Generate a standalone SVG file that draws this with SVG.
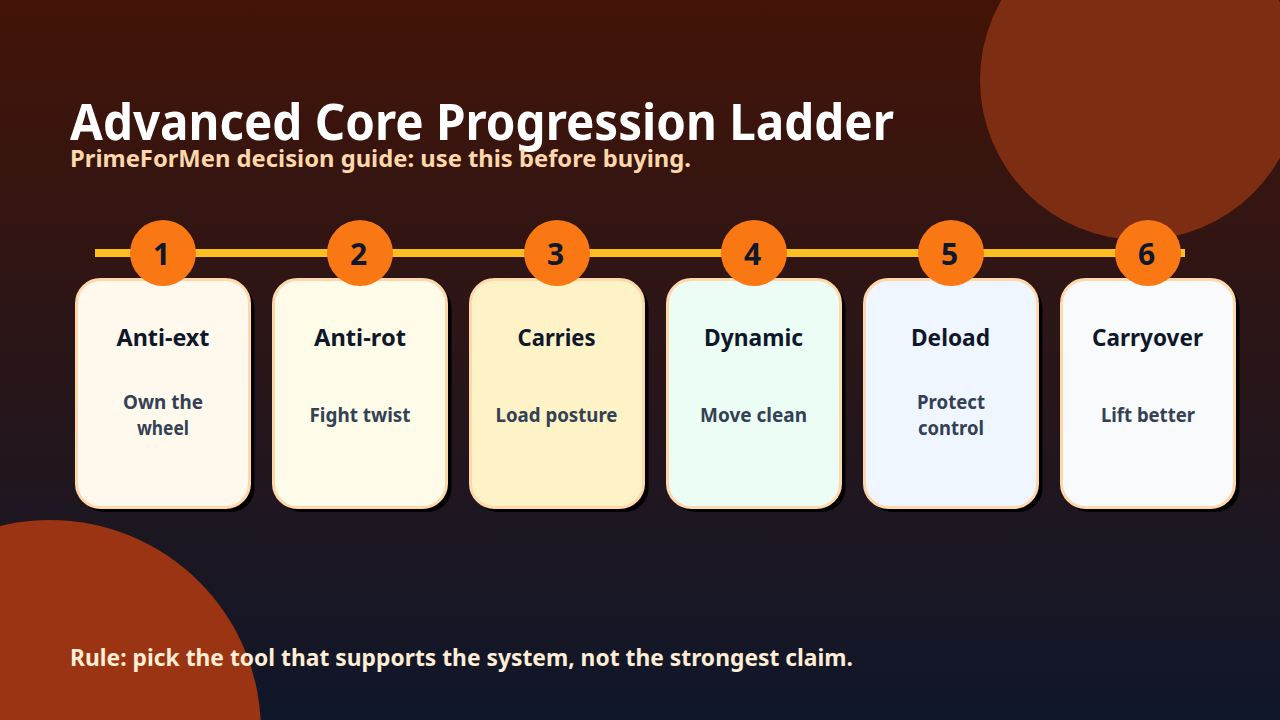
<svg xmlns="http://www.w3.org/2000/svg" width="1280" height="720" viewBox="0 0 1280 720">
<defs>
<linearGradient id="bg" x1="0" y1="0" x2="0" y2="1"><stop offset="0" stop-color="#431407"/><stop offset="1" stop-color="#0f172a"/></linearGradient>
</defs>
<style>
text{font-family:"Noto Sans","Open Sans",sans-serif;}
.t{font-size:50px;font-weight:700;fill:#fff}
.s{font-size:24px;font-weight:700;fill:#fed7aa}
.r{font-size:24px;font-weight:700;fill:#ffedd5}
.card{stroke:#fed7aa;stroke-width:3}
.sh{fill:#000}
.dot{fill:#f97814}
.n{font-size:30px;font-weight:700;fill:#0f172a;text-anchor:middle}
.h{font-size:24px;font-weight:700;fill:#0f172a;text-anchor:middle}
.b{font-size:20px;font-weight:700;fill:#334155;text-anchor:middle}
</style>
<rect width="1280" height="720" fill="url(#bg)"/>
<circle cx="1140" cy="80" r="160" fill="#7c2d12"/>
<circle cx="50" cy="731" r="211" fill="#9a3412"/>
<text class="t" x="70" y="140" textLength="824" lengthAdjust="spacingAndGlyphs">Advanced Core Progression Ladder</text>
<text class="s" x="70" y="167" textLength="621" lengthAdjust="spacingAndGlyphs">PrimeForMen decision guide: use this before buying.</text>
<g id="connectors"><rect x="95" y="249" width="1090" height="8" fill="#fbbf24"/></g>
<g id="step1"><rect class="sh" x="80.500" y="284" width="174" height="228" rx="24"/><rect class="card" x="76.500" y="279.500" width="173" height="228" rx="24" fill="#fff8ed"/><circle class="dot" cx="163" cy="253" r="33"/><text class="n" x="161.500" y="265">1</text><text class="h" x="163" y="346" textLength="93" lengthAdjust="spacingAndGlyphs">Anti-ext</text><text class="b" x="163" y="409" textLength="80" lengthAdjust="spacingAndGlyphs">Own the</text><text class="b" x="163" y="435" textLength="52" lengthAdjust="spacingAndGlyphs">wheel</text></g>
<g id="step2"><rect class="sh" x="277.500" y="284" width="174" height="228" rx="24"/><rect class="card" x="273.500" y="279.500" width="173" height="228" rx="24" fill="#fefce8"/><circle class="dot" cx="360" cy="253" r="33"/><text class="n" x="358.500" y="265">2</text><text class="h" x="360" y="346" textLength="92" lengthAdjust="spacingAndGlyphs">Anti-rot</text><text class="b" x="360" y="422" textLength="101" lengthAdjust="spacingAndGlyphs">Fight twist</text></g>
<g id="step3"><rect class="sh" x="474.500" y="284" width="174" height="228" rx="24"/><rect class="card" x="470.500" y="279.500" width="173" height="228" rx="24" fill="#fef3c7"/><circle class="dot" cx="557" cy="253" r="33"/><text class="n" x="555.500" y="265">3</text><text class="h" x="556.500" y="346" textLength="78" lengthAdjust="spacingAndGlyphs">Carries</text><text class="b" x="556.500" y="422" textLength="122" lengthAdjust="spacingAndGlyphs">Load posture</text></g>
<g id="step4"><rect class="sh" x="671.500" y="284" width="174" height="228" rx="24"/><rect class="card" x="667.500" y="279.500" width="173" height="228" rx="24" fill="#ecfdf5"/><circle class="dot" cx="754" cy="253" r="33"/><text class="n" x="752.500" y="265">4</text><text class="h" x="753.500" y="346" textLength="99" lengthAdjust="spacingAndGlyphs">Dynamic</text><text class="b" x="753.500" y="422" textLength="107" lengthAdjust="spacingAndGlyphs">Move clean</text></g>
<g id="step5"><rect class="sh" x="868.500" y="284" width="174" height="228" rx="24"/><rect class="card" x="864.500" y="279.500" width="173" height="228" rx="24" fill="#eff6ff"/><circle class="dot" cx="951" cy="253" r="33"/><text class="n" x="949.500" y="265">5</text><text class="h" x="950.500" y="346" textLength="79" lengthAdjust="spacingAndGlyphs">Deload</text><text class="b" x="951" y="409" textLength="68" lengthAdjust="spacingAndGlyphs">Protect</text><text class="b" x="951" y="435" textLength="66" lengthAdjust="spacingAndGlyphs">control</text></g>
<g id="step6"><rect class="sh" x="1065.500" y="284" width="174" height="228" rx="24"/><rect class="card" x="1061.500" y="279.500" width="173" height="228" rx="24" fill="#f8fafc"/><circle class="dot" cx="1148" cy="253" r="33"/><text class="n" x="1146.500" y="265">6</text><text class="h" x="1147.500" y="346" textLength="111" lengthAdjust="spacingAndGlyphs">Carryover</text><text class="b" x="1148" y="422" textLength="94" lengthAdjust="spacingAndGlyphs">Lift better</text></g>
<text class="r" x="70" y="666" textLength="783" lengthAdjust="spacingAndGlyphs">Rule: pick the tool that supports the system, not the strongest claim.</text>
</svg>
